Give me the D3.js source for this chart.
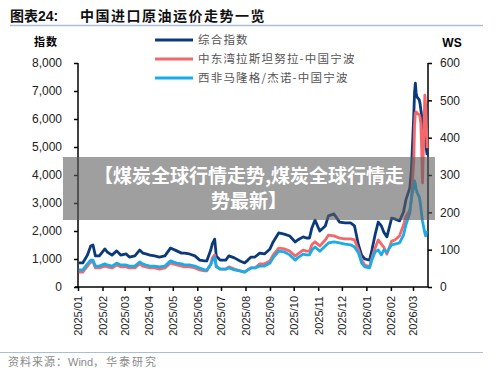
<!DOCTYPE html>
<html>
<head>
<meta charset="utf-8">
<script src="https://cdn.jsdelivr.net/npm/d3@7"></script>
<style>
  body { margin: 0; background: #fff; }
  svg { display: block; font-family: "Liberation Sans", Arial, sans-serif; }
  .cjk { font-family: "Noto Sans CJK SC", sans-serif; }
</style>
</head>
<body>
<svg width="500" height="377"></svg>
<script>
// weekly-ish sample dates
const dates = [
  "2025-01-02","2025-01-07","2025-01-13","2025-01-17","2025-01-20","2025-01-23","2025-01-28",
  "2025-02-04","2025-02-07","2025-02-13","2025-02-19","2025-02-24",
  "2025-03-03","2025-03-07","2025-03-14","2025-03-20","2025-03-24","2025-03-28",
  "2025-04-02","2025-04-08","2025-04-14","2025-04-21","2025-04-28",
  "2025-05-06","2025-05-12","2025-05-16","2025-05-22","2025-05-29",
  "2025-06-04","2025-06-10","2025-06-13","2025-06-18","2025-06-20","2025-06-23","2025-06-25","2025-06-30",
  "2025-07-07","2025-07-11","2025-07-18","2025-07-25","2025-07-31",
  "2025-08-04","2025-08-08","2025-08-13","2025-08-19","2025-08-25",
  "2025-09-01","2025-09-05","2025-09-12","2025-09-19","2025-09-26",
  "2025-10-03","2025-10-06","2025-10-13","2025-10-17","2025-10-21","2025-10-24","2025-10-28",
  "2025-11-03","2025-11-10","2025-11-14","2025-11-21","2025-11-28",
  "2025-12-05","2025-12-12","2025-12-17","2025-12-22","2025-12-26","2025-12-30",
  "2026-01-05","2026-01-08","2026-01-12","2026-01-16","2026-01-20","2026-01-23","2026-01-27",
  "2026-02-02","2026-02-06","2026-02-12","2026-02-17","2026-02-20","2026-02-25","2026-02-27",
  "2026-03-02","2026-03-03","2026-03-04","2026-03-05","2026-03-06","2026-03-09","2026-03-10",
  "2026-03-11","2026-03-12","2026-03-13","2026-03-16","2026-03-17","2026-03-18","2026-03-19"
];

// 综合指数 (left axis)
const composite = [
  860,860,1140,1460,1500,1110,1110,
  1360,1250,1140,1290,1140,
  1180,1070,1110,1320,1210,1180,
  1140,1110,1070,1110,1390,
  1290,1210,1210,1180,1110,
  960,930,930,1320,1540,1710,1110,960,
  960,1110,1040,930,860,
  960,1070,1070,1210,1180,
  1360,1610,1930,1890,1820,
  1610,1680,1790,1750,1750,2110,2390,
  2000,2180,2540,2610,2320,
  2290,2290,2180,1500,1140,1000,
  960,1320,1860,2320,2180,1960,1790,
  2460,2430,2360,2680,3110,3540,4180,
  6140,6960,7280,6930,6790,6680,6540,6320,6110,5790,5250,5070,4890,4710
];

// 中东湾拉斯坦努拉-中国宁波 (WS, right axis)
const midEast = [
  40,40,56,67,67,51,51,
  56,54,51,59,54,
  54,51,51,62,56,54,
  51,51,48,51,64,
  59,56,54,54,51,
  46,43,43,62,78,86,56,48,
  48,54,48,43,40,
  46,51,51,62,62,
  70,86,104,102,96,
  83,88,99,96,96,113,121,
  110,126,139,137,131,
  129,129,126,99,72,59,
  54,78,104,126,115,107,88,
  123,126,137,166,188,206,233,
  340,434,466,469,466,461,455,434,367,279,514,488,426,372
];

// 西非马隆格/杰诺-中国宁波 (WS, right axis)
const westAfrica = [
  46,46,62,72,72,56,56,
  62,59,56,64,59,
  59,56,56,67,62,59,
  56,56,54,56,70,
  64,62,59,59,56,
  51,46,46,59,70,80,54,48,
  48,51,46,43,40,
  46,51,51,56,56,
  64,78,96,94,86,
  72,78,88,86,86,99,107,
  96,110,118,121,118,
  115,113,107,91,64,54,
  51,72,94,99,86,99,94,
  113,115,118,139,166,198,238,
  271,284,276,263,254,241,228,212,193,177,145,137,147,145
];

const leftTicks = [0, 1000, 2000, 3000, 4000, 5000, 6000, 7000, 8000];
const rightTicks = [0, 100, 200, 300, 400, 500, 600];
const seriesNames = ["综合指数", "中东湾拉斯坦努拉-中国宁波", "西非马隆格/杰诺-中国宁波"];
const seriesColors = ["#0b3a7c", "#f4676b", "#18ade9"];

const svg = d3.select("svg");
const parse = d3.timeParse("%Y-%m-%d");
const days = dates.map(parse);

const plotLeft = 78, plotRight = 428, plotTop = 63, plotBottom = 287;

const x = d3.scaleTime()
    .domain([parse("2025-01-01"), parse("2026-03-20")])
    .range([plotLeft, plotRight]);
const yL = d3.scaleLinear().domain([0, 8000]).range([plotBottom, plotTop]);
const yR = d3.scaleLinear().domain([0, 600]).range([plotBottom, plotTop]);

// Title + rules
svg.append("text")
    .attr("x", 10).attr("y", 21)
    .attr("font-size", 14).attr("font-weight", "bold").attr("fill", "#111")
    .call(t => {
        t.append("tspan").attr("class", "cjk").text("图表");
        t.append("tspan").text("24:");
        t.append("tspan").attr("class", "cjk").attr("x", 80)
            .attr("letter-spacing", 1.5).text("中国进口原油运价走势一览");
    });

svg.append("line")
    .attr("x1", 10).attr("x2", 483).attr("y1", 25.5).attr("y2", 25.5)
    .attr("stroke", "#a9bfd6").attr("stroke-width", 1.5);

svg.append("line")
    .attr("x1", 0).attr("x2", 483).attr("y1", 352.5).attr("y2", 352.5)
    .attr("stroke", "#a9bfd6").attr("stroke-width", 1);

svg.append("text")
    .attr("x", 8).attr("y", 366)
    .attr("font-size", 11).attr("fill", "#8a8a8a")
    .call(t => {
        t.append("tspan").attr("class", "cjk").attr("letter-spacing", 1).text("资料来源：");
        t.append("tspan").text("Wind");
        t.append("tspan").attr("class", "cjk").attr("letter-spacing", 2).text("，华泰研究");
    });

// Axis titles
svg.append("text").attr("class", "cjk")
    .attr("x", 46).attr("y", 46).attr("text-anchor", "middle")
    .attr("font-size", 11).attr("font-weight", "bold").attr("letter-spacing", 1)
    .text("指数");
svg.append("text")
    .attr("x", 452).attr("y", 47).attr("text-anchor", "middle")
    .attr("font-size", 12).attr("font-weight", "bold")
    .text("WS");

// Axes
const axisL = svg.append("g")
    .attr("transform", `translate(${plotLeft},0)`)
    .call(d3.axisLeft(yL).tickValues(leftTicks).tickFormat(d3.format(",")).tickSize(4).tickPadding(12));

const axisR = svg.append("g")
    .attr("transform", `translate(${plotRight},0)`)
    .call(d3.axisRight(yR).tickValues(rightTicks).tickSize(4).tickPadding(8));

const axisB = svg.append("g")
    .attr("transform", `translate(0,${plotBottom})`)
    .call(d3.axisBottom(x).ticks(d3.timeMonth.every(1)).tickFormat(d3.timeFormat("%Y/%m")).tickSize(4));

[axisL, axisR, axisB].forEach(a => {
    a.selectAll(".domain").attr("stroke", "#000").attr("stroke-width", 1.5);
    a.selectAll(".tick line").attr("stroke", "#000").attr("stroke-width", 1.5);
    a.selectAll("text")
        .attr("font-family", "'Liberation Sans', Arial, sans-serif")
        .attr("font-size", 12).attr("fill", "#222");
});
axisL.select(".domain").attr("d", `M0,${plotTop}V${plotBottom}`);
axisR.select(".domain").attr("d", `M0,${plotTop}V${plotBottom}`);
axisB.select(".domain").attr("d", `M${plotLeft - 3},0H${plotRight}`);

axisB.selectAll("text")
    .attr("font-size", 11)
    .attr("transform", "rotate(-90)")
    .attr("text-anchor", "end")
    .attr("x", -9).attr("y", 0).attr("dy", "0.35em");

// Lines
const series = [
    { values: composite, y: yL },
    { values: midEast, y: yR },
    { values: westAfrica, y: yR }
];

const plot = svg.append("g");
series.forEach((s, i) => {
    const line = d3.line()
        .x((d, j) => x(days[j]))
        .y(d => s.y(d));
    plot.append("path")
        .datum(s.values)
        .attr("d", line)
        .attr("fill", "none")
        .attr("stroke", seriesColors[i])
        .attr("stroke-width", 2.8)
        .attr("stroke-linejoin", "round");
});

// Legend
const legend = svg.append("g");
seriesNames.forEach((name, i) => {
    const ly = 40 + i * 19;
    legend.append("line")
        .attr("x1", 155).attr("x2", 193).attr("y1", ly).attr("y2", ly)
        .attr("stroke", seriesColors[i]).attr("stroke-width", 3);
    legend.append("text").attr("class", "cjk")
        .attr("x", 198).attr("y", ly + 4)
        .attr("font-size", 11.5).attr("fill", "#555").attr("letter-spacing", 1.2)
        .text(name);
});

// Overlay banner
svg.append("rect")
    .attr("x", 63).attr("y", 157).attr("width", 372).attr("height", 63)
    .attr("fill", "rgba(95,95,95,0.6)");

svg.append("text").attr("class", "cjk")
    .attr("x", 249).attr("text-anchor", "middle")
    .attr("font-size", 19).attr("font-weight", "bold").attr("fill", "#fff")
    .call(t => {
        t.append("tspan").attr("x", 249).attr("y", 183).text("【煤炭全球行情走势,煤炭全球行情走");
        t.append("tspan").attr("x", 249).attr("y", 208).text("势最新】");
    });
</script>
</body>
</html>
